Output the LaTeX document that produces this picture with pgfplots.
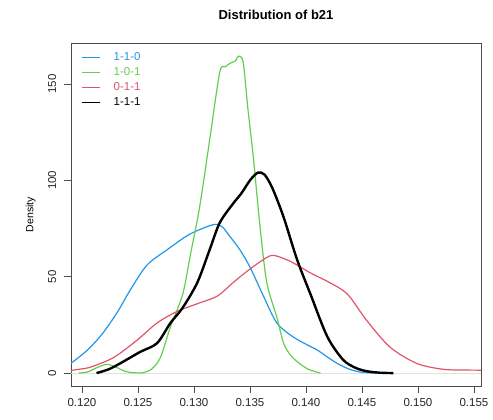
\documentclass[border=0pt]{standalone}
\usepackage{pgfplots}
\pgfplotsset{compat=1.18}
\usepackage{fontspec}
\setmainfont{Liberation Sans}
\definecolor{rblue}{HTML}{2297E6}
\definecolor{rgreen}{HTML}{61D04F}
\definecolor{rred}{HTML}{DF536B}
\begin{document}
\begin{tikzpicture}
\begin{axis}[
  scale only axis, width=410pt, height=343pt,
  xmin=0.11902, xmax=0.15563, ymin=-6.7, ymax=171.3,
  axis line style={draw=black!70, line width=0.6pt},
  xtick={0.120,0.125,0.130,0.135,0.140,0.145,0.150,0.155},
  xticklabels={0.120,0.125,0.130,0.135,0.140,0.145,0.150,0.155},
  ytick={0,50,100,150},
  yticklabels={0,50,100,150},
  tick align=outside, major tick length=7pt,
  tick style={black!70, line width=0.6pt},
  xtick pos=bottom, ytick pos=left,
  /pgf/number format/assume math mode=true,
  tick label style={font=\fontsize{11.5}{13}\selectfont, text=black!85},
  yticklabel style={rotate=90, anchor=south, inner ysep=7.5pt},
  xticklabel style={yshift=-2pt},
  ylabel={Density}, ylabel style={font=\fontsize{10.5}{12}\selectfont, yshift=1.5pt},
  title={\bfseries Distribution of b21},
  title style={font=\fontsize{13}{15}\selectfont, yshift=14pt},
  legend style={draw=none, fill=none, at={(0.018,0.985)}, anchor=north west,
    font=\fontsize{11.5}{13}\selectfont, row sep=1.5pt},
  legend cell align=left,
  legend image code/.code={\draw[#1, line width=0.8pt] (0cm,0cm) -- (0.65cm,0cm); \path (1.0cm,0cm);},
  clip=true,
]
\addplot[black!12, line width=0.6pt, forget plot] coordinates {(0.11902,0) (0.15563,0)};
% 1-1-0 blue
\addplot[rblue, line width=1.2pt, smooth, tension=0.5] coordinates {
(0.1190,5) (0.1205,12) (0.1219,21) (0.1232,32) (0.1243,43) (0.1258,56) (0.1276,64)
(0.1296,72) (0.1317,77) (0.1325,76) (0.1332,71) (0.1341,64) (0.1350,55) (0.1362,40)
(0.1374,26) (0.1388,19) (0.1400,15) (0.1410,12) (0.1420,8) (0.1428,5) (0.1438,2.2)
(0.1448,0.6) (0.1458,0.1) (0.1468,0)};
\addlegendentry{\textcolor{rblue}{1-1-0}}
% 1-0-1 green
\addplot[rgreen, line width=1.2pt, smooth, tension=0.5] coordinates {
(0.1197,0) (0.1205,0.6) (0.1214,3) (0.1222,4.5) (0.1230,3.2) (0.1238,1) (0.1246,0.2)
(0.1254,0.2) (0.1262,2) (0.1270,8) (0.1279,24) (0.1290,41) (0.1297,62) (0.1305,86)
(0.1314,121) (0.1323,156) (0.1328,159) (0.1333,161) (0.1337,162) (0.1340,164.5)
(0.1344,161) (0.1348,138) (0.1353,112) (0.1359,76) (0.1365,47) (0.1374,29)
(0.1380,15.5) (0.1386,9.5) (0.1392,6) (0.1402,2) (0.1413,0)};
\addlegendentry{\textcolor{rgreen}{1-0-1}}
% 0-1-1 red
\addplot[rred, line width=1.2pt, smooth, tension=0.5] coordinates {
(0.1185,0.8) (0.1195,1.8) (0.1207,3) (0.1228,8) (0.1249,17) (0.1267,26) (0.1285,32)
(0.1303,36) (0.1321,40) (0.1335,47) (0.1350,54) (0.1365,60) (0.1372,61) (0.1386,58)
(0.1404,52) (0.1421,47) (0.1437,41) (0.1454,27.5) (0.1475,13.5) (0.1499,5)
(0.1522,2) (0.1540,1.6) (0.1555,1.5) (0.1565,1.2)};
\addlegendentry{\textcolor{rred}{0-1-1}}
% 1-1-1 black
\addplot[black, line width=2.4pt, smooth, tension=0.5] coordinates {
(0.1213,0) (0.1224,2) (0.1234,5) (0.1252,11) (0.1267,15.5) (0.1279,26) (0.1290,34)
(0.1303,47) (0.1314,64) (0.1323,78) (0.1335,88) (0.1342,93) (0.1350,100) (0.1357,104)
(0.1363,103) (0.1370,96) (0.1380,81) (0.1392,59) (0.1404,41) (0.1419,19)
(0.1433,7) (0.1444,2.8) (0.1454,1) (0.1466,0.2) (0.1478,0)};
\addlegendentry{\textcolor{black}{1-1-1}}
\end{axis}
\path (current axis.south west) ++(-71pt,-34pt) coordinate (bl);
\path (current axis.north east) ++(12pt,43pt) coordinate (tr);
\path (bl) rectangle (tr);
\end{tikzpicture}
\end{document}
